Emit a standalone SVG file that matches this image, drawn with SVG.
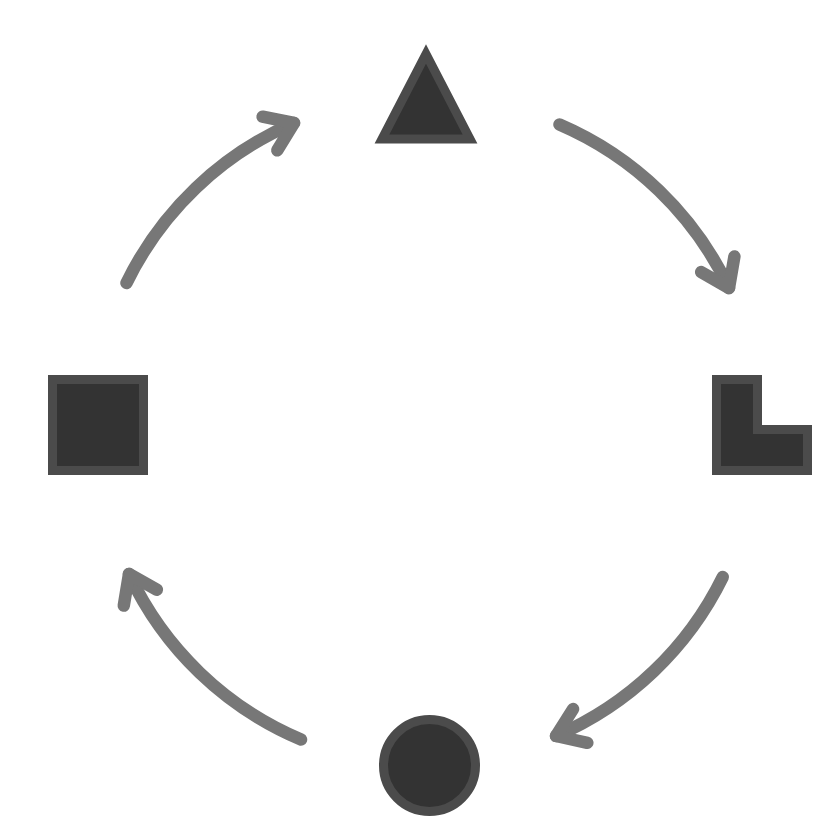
<svg xmlns="http://www.w3.org/2000/svg" width="840" height="840" viewBox="0 0 840 840">
<style>
.shape{fill:#333333;stroke:#4b4b4b;stroke-width:9}
.arc{fill:none;stroke:#777777;stroke-width:12.5;stroke-linecap:round;stroke-linejoin:round}
</style>
<rect width="840" height="840" fill="#ffffff"/>
<g id="connectors">
<path class="arc" d="M559.5,124.5 A333,333 0 0 1 729,288"/>
<polyline class="arc" points="734.4,256.5 729,288 701.2,272.1"/>
<path class="arc" d="M722.8,577 A333,333 0 0 1 556,736"/>
<polyline class="arc" points="573.1,709 556,736 587.3,742.8"/>
<path class="arc" d="M301,739.5 A333,333 0 0 1 129,574"/>
<polyline class="arc" points="123.8,605.6 129,574 156.9,589.7"/>
<path class="arc" d="M126.5,283 A333,333 0 0 1 294,123"/>
<polyline class="arc" points="262.6,116.7 294,123 277.3,150.3"/>
</g>
<g id="triangle"><polygon class="shape" points="426,54 470,139 382,139"/></g>
<g id="lshape"><path class="shape" d="M716.5,379.5 H757.5 V429.5 H807.5 V470.5 H716.5 Z"/></g>
<g id="circle"><circle class="shape" cx="429.5" cy="765.5" r="46"/></g>
<g id="square"><rect class="shape" x="52.5" y="379.5" width="91" height="91"/></g>
</svg>
